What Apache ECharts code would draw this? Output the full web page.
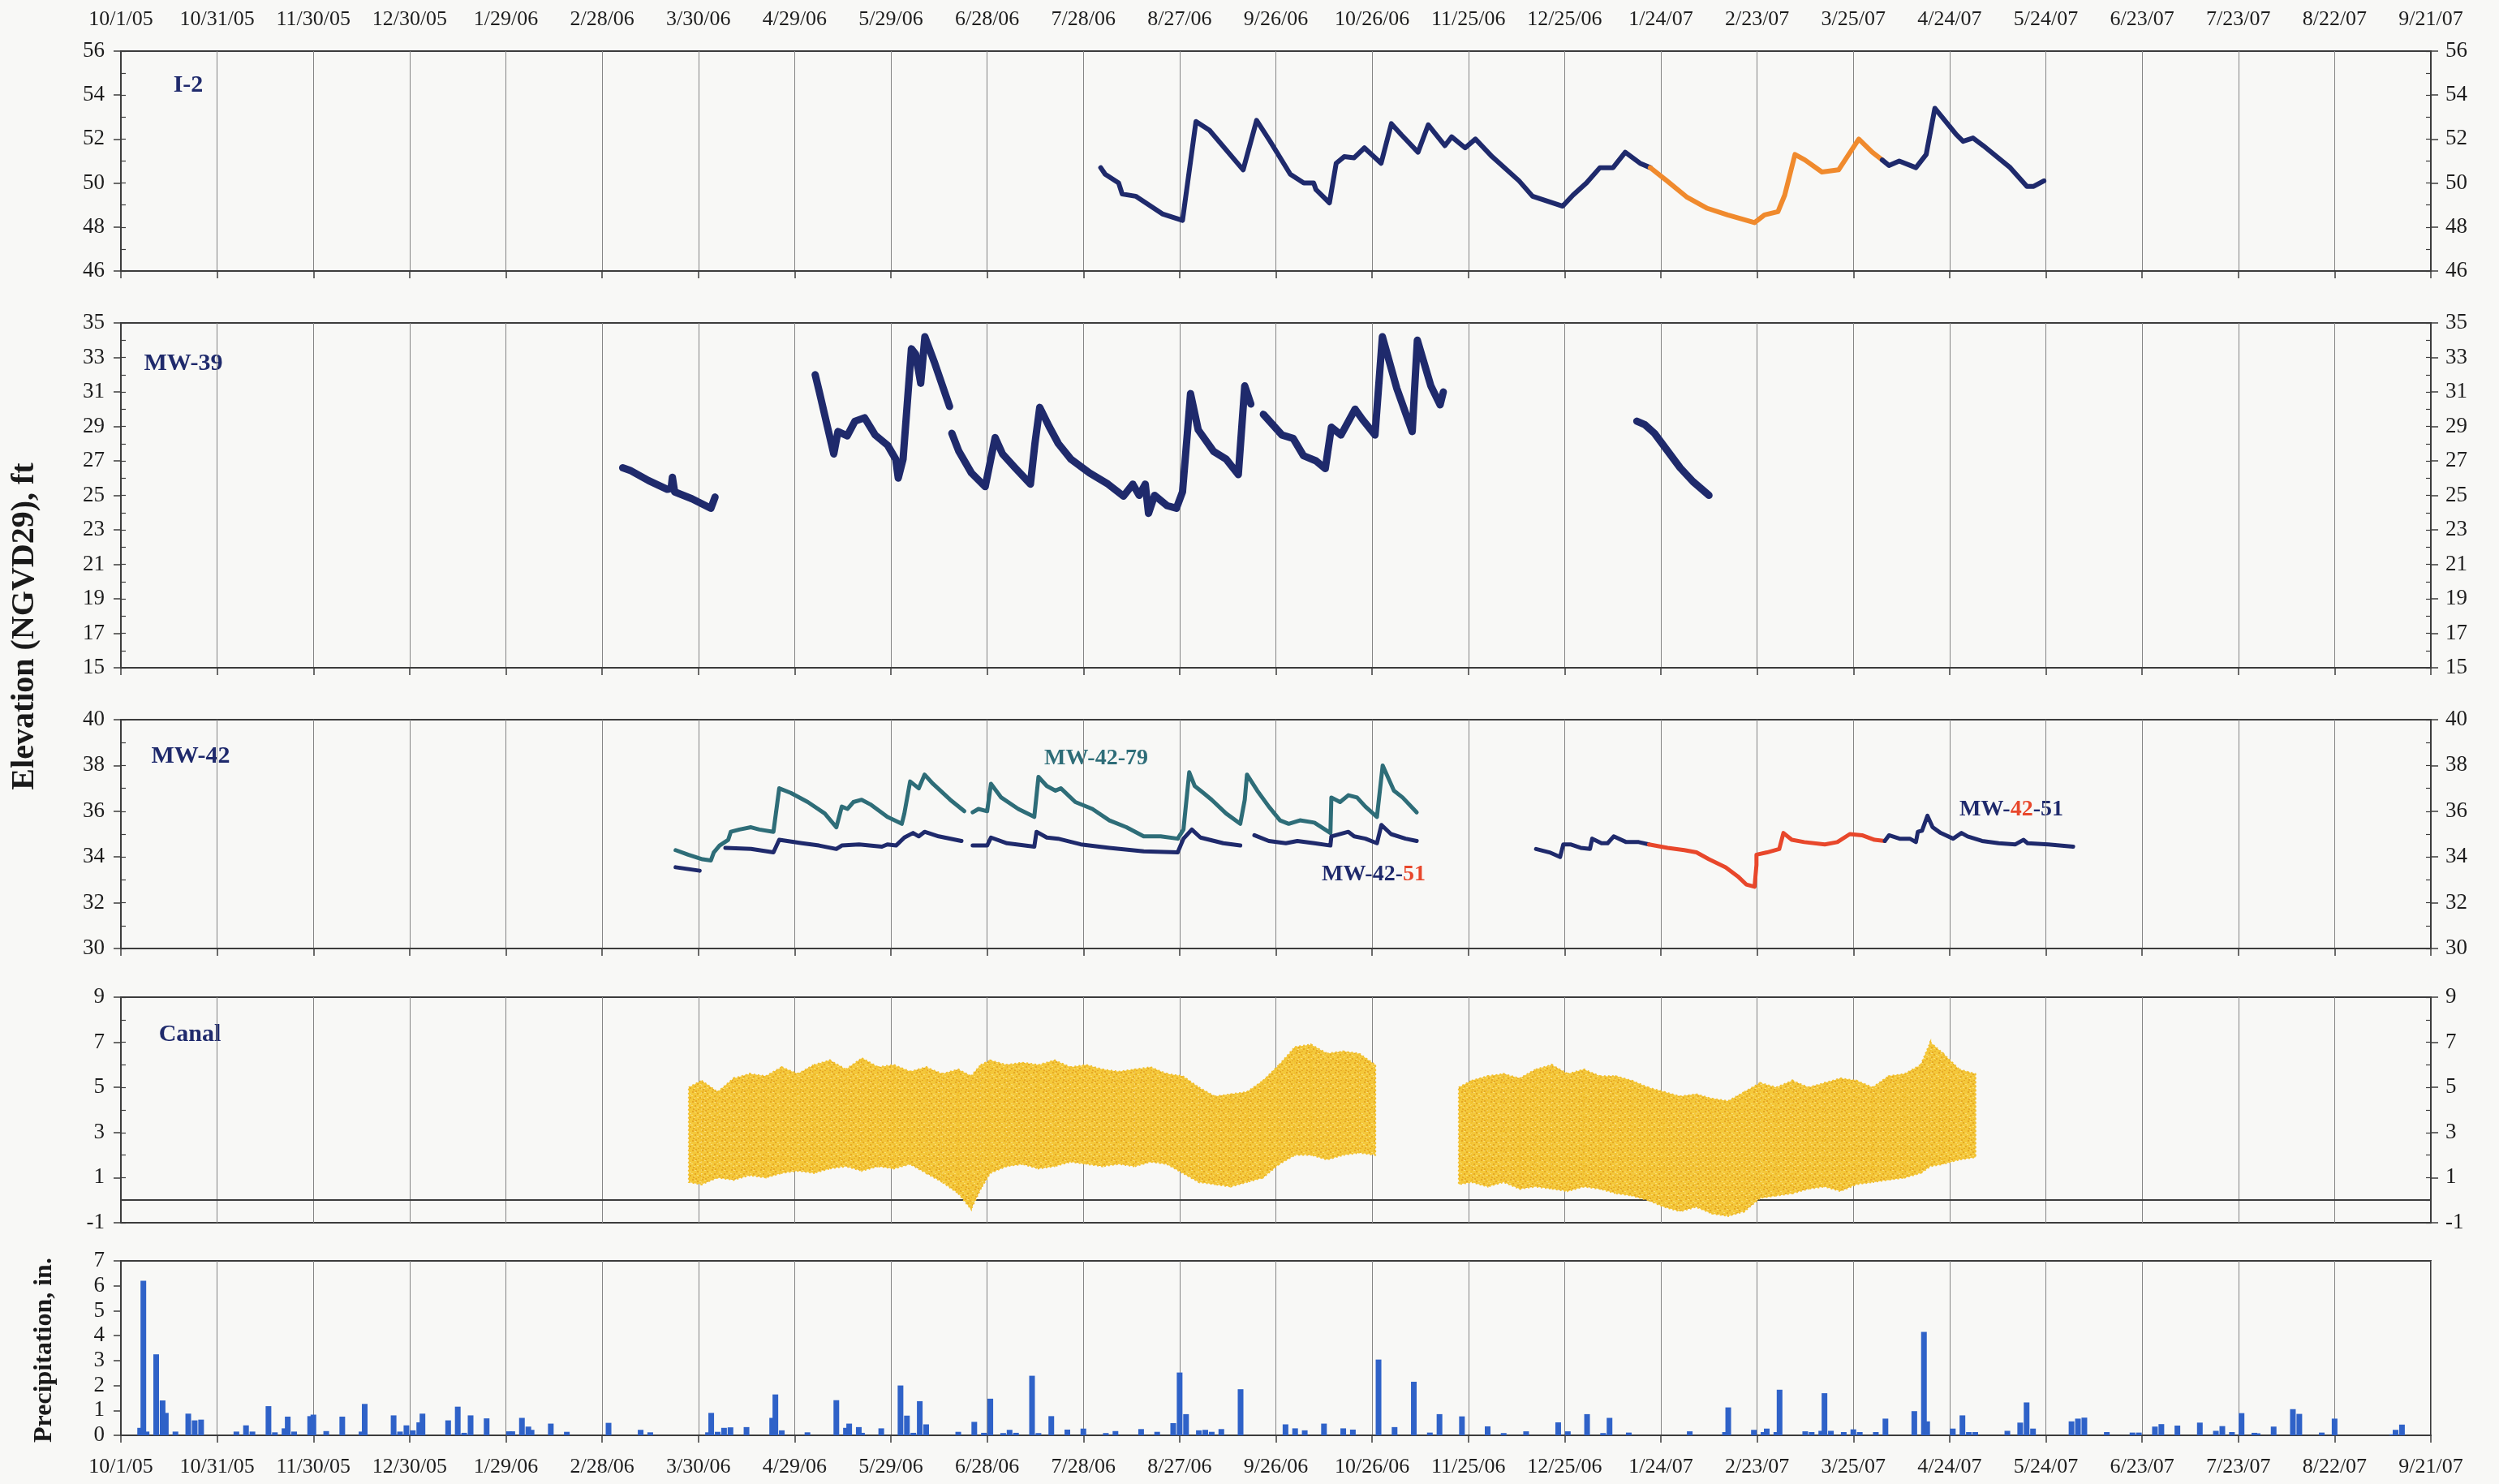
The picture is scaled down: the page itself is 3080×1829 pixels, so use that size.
<!DOCTYPE html>
<html>
<head>
<meta charset="utf-8">
<script src="https://cdn.jsdelivr.net/npm/echarts@6/dist/echarts.min.js"></script>
<style>
html,body{margin:0;padding:0;background:#f8f8f6;}
#chart{width:3080px;height:1829px;}
</style>
</head>
<body>
<div id="chart"></div>
<script>
// x values are elapsed days since 10/1/05; the axis prints them as M/D/YY dates.
const DAY0 = Date.UTC(2005, 9, 1);
const X_MIN = 0, X_MAX = 720, X_STEP = 30;

// ---- I-2 water level, ft NGVD29 ----
const i2Navy1 = [[305.4,50.7],[306.8,50.4],[311,50.0],[312.1,49.5],[316.3,49.4],[320.5,49.0],[324.6,48.6],[330.9,48.3],[335.1,52.8],[339.3,52.4],[349.8,50.6],[354.0,52.85],[358.2,51.9],[364.5,50.4],[368.7,50.0],[371.8,50.0],[372.5,49.7],[376.7,49.1],[378.8,50.9],[381.3,51.2],[384.4,51.15],[387.6,51.6],[392.8,50.9],[396.0,52.7],[399.1,52.2],[404.3,51.4],[407.5,52.65],[412.7,51.7],[414.8,52.1],[419.0,51.6],[422.2,52.0],[427.4,51.2],[435.8,50.1],[440.0,49.4],[449.4,48.95],[452.6,49.45],[456.8,50.0],[461.0,50.7],[465.1,50.7],[468.9,51.4],[473.5,50.9],[476.7,50.7]];
const i2Orange = [[476.7,50.7],[481.9,50.1],[488.2,49.35],[494.5,48.85],[500.8,48.55],[509.2,48.2],[512.3,48.55],[516.5,48.7],[518.6,49.45],[521.8,51.3],[524.9,51.05],[530.2,50.5],[535.4,50.6],[541.7,52.0],[545.9,51.4],[549.0,51.05]];
const i2Navy2 = [[549.0,51.05],[551.1,50.8],[554.3,51.0],[559.5,50.7],[562.7,51.3],[565.4,53.4],[572.1,52.2],[574.2,51.9],[577.3,52.05],[580.5,51.7],[588.9,50.7],[594.1,49.85],[596.2,49.85],[599.4,50.1]];

// ---- MW-39 ----
const mw39Seg1 = [[156.4,26.6],[158.7,26.45],[164.5,25.85],[170.3,25.35],[171.5,25.4],[171.9,26.05],[172.6,25.2],[178.0,24.8],[183.9,24.25],[185.2,24.9]];
const mw39Seg2 = [[216.4,32.0],[217.7,31.0],[220.2,29.0],[222.2,27.4],[223.5,28.7],[226.4,28.45],[228.8,29.3],[231.8,29.5],[235.1,28.5],[239.0,27.9],[241.5,27.1],[242.3,26.0],[243.8,27.1],[246.4,33.5],[247.7,33.2],[249.3,31.5],[250.6,34.2],[253.5,32.75],[258.3,30.15]];
const mw39Seg3 = [[259.0,28.6],[261.2,27.55],[265.1,26.3],[269.4,25.5],[272.5,28.35],[274.8,27.4],[278.7,26.6],[283.5,25.65],[284.9,28.0],[286.4,30.1],[289.3,29.0],[292.2,28.0],[296.1,27.1],[301.9,26.3],[307.7,25.65],[312.5,24.95],[315.4,25.65],[317.4,25.0],[319.3,25.65],[320.3,23.95],[322.2,25.0],[326.1,24.4],[329.0,24.25],[330.9,25.2],[332.5,28.8],[333.4,30.9],[335.8,28.8],[340.6,27.55],[344.5,27.1],[348.3,26.2],[350.3,31.35],[352.2,30.3]];
const mw39Seg4 = [[356.1,29.7],[361.9,28.5],[365.4,28.3],[368.6,27.3],[372.5,27.0],[375.4,26.55],[377.3,28.95],[380.3,28.5],[384.7,30.0],[387.0,29.4],[390.9,28.5],[393.2,34.2],[397.7,31.2],[402.5,28.7],[404.1,34.0],[408.3,31.35],[411.2,30.25],[412.2,31.0]];
const mw39Seg5 = [[472.5,29.3],[475,29.1],[478,28.6],[482,27.6],[486,26.6],[490,25.8],[495,25.0]];

// ---- MW-42 cluster ----
const mw4279SegA = [[172.9,34.3],[176.8,34.1],[181.3,33.9],[183.9,33.85],[184.8,34.2],[186.6,34.5],[189.3,34.75],[190.1,35.1],[192.8,35.2],[196.4,35.3],[199.0,35.2],[203.4,35.1],[205.2,37.0],[208.8,36.8],[214.1,36.4],[219.4,35.9],[223.0,35.3],[224.7,36.2],[226.5,36.1],[228.3,36.4],[230.9,36.5],[233.6,36.3],[238.9,35.75],[243.4,35.45],[244.2,35.9],[246.0,37.3],[248.7,37.0],[250.5,37.6],[253.1,37.2],[258.5,36.5],[262.9,36.0]];
const mw4279SegB = [[265.5,35.95],[267.3,36.1],[270.0,36.0],[271.2,37.2],[274.4,36.6],[279.7,36.1],[284.7,35.75],[286.0,37.5],[288.6,37.1],[291.3,36.9],[293.0,37.0],[297.5,36.4],[302.8,36.1],[308.1,35.6],[313.4,35.3],[318.8,34.9],[324.1,34.9],[329.4,34.8],[331.2,35.2],[333.0,37.7],[334.7,37.1],[337.4,36.8],[340.0,36.5],[344.5,35.9],[348.9,35.45],[350.3,36.5],[351.0,37.6],[354.2,36.9],[357.8,36.2],[361.3,35.6],[364.0,35.45],[367.5,35.6],[372.0,35.5],[377.0,35.05],[377.3,36.6],[380.0,36.4],[382.6,36.7],[385.3,36.6],[387.9,36.2],[391.5,35.75],[393.3,38.0],[396.8,36.9],[399.5,36.6],[403.9,35.95]];
const mw4251SegA = [[172.9,33.55],[180.4,33.4]];
const mw4251SegB = [[188.4,34.4],[196.4,34.35],[203.4,34.2],[205.2,34.75],[212.3,34.6],[217.6,34.5],[223.0,34.35],[224.7,34.5],[230.1,34.55],[237.2,34.45],[238.9,34.55],[241.6,34.5],[244.2,34.85],[246.9,35.05],[248.7,34.9],[250.5,35.1],[254.9,34.9],[262.0,34.7]];
const mw4251SegC = [[265.5,34.5],[270.0,34.5],[271.2,34.85],[276.2,34.6],[284.7,34.45],[285.4,35.1],[288.6,34.85],[292.1,34.8],[299.2,34.55],[308.1,34.4],[318.8,34.25],[329.4,34.2],[331.2,34.8],[333.8,35.2],[336.5,34.85],[343.6,34.6],[348.9,34.5]];
const mw4251SegD = [[353.3,34.95],[357.8,34.7],[363.1,34.6],[366.7,34.7],[372.0,34.6],[377.0,34.5],[377.3,34.9],[382.6,35.1],[384.4,34.9],[387.9,34.8],[391.5,34.6],[392.9,35.4],[395.9,35.0],[400.4,34.8],[403.9,34.7]];
const mw4251SegE = [[441.1,34.35],[445.3,34.2],[448.6,34.0],[449.6,34.55],[451.8,34.55],[455.0,34.4],[457.9,34.35],[458.6,34.8],[461.5,34.6],[463.4,34.6],[465.3,34.9],[469.2,34.65],[473.1,34.65],[476.3,34.55]];
const mw4251Red = [[476.3,34.55],[482.1,34.4],[487.3,34.3],[491.1,34.2],[495.0,33.9],[500.2,33.55],[504.0,33.15],[506.6,32.8],[509.2,32.7],[509.8,33.65],[509.8,34.1],[513.1,34.2],[516.9,34.35],[518.2,35.05],[520.8,34.75],[524.7,34.65],[531.1,34.55],[535.0,34.65],[538.9,35.0],[542.7,34.95],[546.6,34.75],[549.8,34.7]];
const mw4251SegF = [[549.8,34.7],[551.1,34.95],[554.4,34.8],[557.6,34.8],[559.5,34.65],[560.1,35.1],[561.4,35.15],[563.1,35.8],[564.7,35.3],[567.2,35.05],[571.1,34.8],[573.7,35.05],[575.6,34.9],[580.1,34.7],[585.3,34.6],[590.5,34.55],[593.0,34.75],[594.3,34.6],[600.8,34.55],[608.5,34.45]];

// ---- Canal stage: [day, low, high] ----
const canalRun1 = [[177,0.8,5.0],[181,0.7,5.3],[186,1.0,4.8],[191,0.9,5.4],[196,1.1,5.6],[201,1.0,5.5],[206,1.2,5.9],[211,1.3,5.6],[216,1.2,6.0],[221,1.4,6.2],[226,1.5,5.8],[231,1.3,6.3],[236,1.5,5.9],[241,1.4,6.0],[246,1.6,5.7],[251,1.2,5.9],[256,0.8,5.6],[261,0.3,5.8],[265,-0.4,5.5],[268,0.5,6.0],[271,1.2,6.2],[276,1.5,6.0],[281,1.6,6.1],[286,1.4,6.0],[291,1.5,6.2],[296,1.7,5.9],[301,1.6,6.0],[306,1.5,5.8],[311,1.6,5.7],[316,1.5,5.8],[321,1.7,5.9],[326,1.6,5.6],[331,1.2,5.5],[336,0.8,5.0],[341,0.7,4.6],[346,0.6,4.7],[351,0.8,4.8],[356,1.0,5.3],[361,1.6,6.0],[366,2.0,6.8],[371,2.0,6.9],[376,1.8,6.5],[381,2.0,6.6],[386,2.1,6.5],[391,2.0,6.0]];
const canalRun2 = [[417,0.7,5.0],[421,0.8,5.3],[426,0.6,5.5],[431,0.8,5.6],[436,0.5,5.4],[441,0.6,5.8],[446,0.5,6.0],[451,0.4,5.6],[456,0.6,5.8],[461,0.5,5.5],[466,0.3,5.5],[471,0.2,5.3],[476,0.0,5.0],[481,-0.3,4.8],[486,-0.5,4.6],[491,-0.3,4.7],[496,-0.6,4.5],[501,-0.7,4.4],[506,-0.5,4.8],[511,0.1,5.2],[516,0.2,5.0],[521,0.3,5.3],[526,0.5,5.0],[531,0.6,5.2],[536,0.4,5.4],[541,0.7,5.3],[546,0.8,5.0],[551,0.9,5.5],[556,1.0,5.6],[561,1.2,6.0],[564,1.5,7.0],[568,1.6,6.5],[573,1.8,5.8],[578,1.9,5.6]];

// ---- Daily precipitation, in. ----
const rainDay = [6,7,8,11,13,14,17,21,23,25,36,39,41,46,48,51,52,54,59,60,64,69,75,76,85,87,89,91,93,94,102,105,107,109,114,121,122,125,127,128,134,139,152,162,165,183,184,186,188,190,195,203,204,206,214,
223,226,227,230,231,237,243,245,247,249,251,261,266,269,271,275,277,279,284,286,290,295,300,307,310,318,323,328,330,332,336,338,340,343,349,363,366,369,375,381,384,392,397,403,408,411,418,426,431,438,448,451,457,462,464,470,489,
500,501,509,512,513,516,517,525,527,530,531,533,537,540,542,547,550,559,562,563,571,574,576,578,588,592,594,596,608,610,612,619,627,629,634,636,641,648,653,655,658,661,665,666,671,677,679,686,690,708,709,711];
const rainInches = [0.3,6.2,0.15,3.25,1.4,0.9,0.15,0.87,0.6,0.63,0.15,0.4,0.15,1.17,0.12,0.28,0.75,0.15,0.77,0.83,0.17,0.75,0.15,1.26,0.8,0.15,0.4,0.2,0.52,0.87,0.6,1.15,0.1,0.8,0.68,0.16,0.16,0.7,0.35,0.22,0.47,0.14,0.5,0.22,0.12,0.12,0.9,0.14,0.3,0.32,0.33,0.7,1.64,0.2,0.12,
1.41,0.3,0.47,0.33,0.1,0.28,2.0,0.79,0.1,1.37,0.44,0.14,0.54,0.1,1.47,0.09,0.22,0.1,2.39,0.09,0.77,0.23,0.27,0.09,0.17,0.25,0.14,0.49,2.52,0.85,0.2,0.22,0.14,0.25,1.85,0.44,0.28,0.2,0.47,0.28,0.23,3.04,0.33,2.15,0.11,0.85,0.76,0.36,0.09,0.16,0.52,0.16,0.85,0.09,0.7,0.11,0.16,
0.13,1.12,0.22,0.13,0.27,0.13,1.83,0.16,0.13,0.18,1.69,0.18,0.13,0.24,0.13,0.13,0.67,0.97,4.15,0.56,0.27,0.8,0.13,0.13,0.18,0.51,1.32,0.27,0.56,0.67,0.71,0.13,0.11,0.11,0.35,0.45,0.39,0.51,0.18,0.37,0.13,0.89,0.1,0.08,0.35,1.05,0.86,0.11,0.67,0.04,0.22,0.43];

// ---- tick labels ----
const i2Ticks = [46,48,50,52,54,56];
const mw39Ticks = [15,17,19,21,23,25,27,29,31,33,35];
const mw42Ticks = [30,32,34,36,38,40];
const canalTicks = [-1,1,3,5,7,9];
const rainTicks = [0,1,2,3,4,5,6,7];

const NAVY = '#1f2a6c', ORANGE = '#f08a2d', TEAL = '#2e6d78', RED = '#e8472b', GOLD = '#f2c02e', BLUE = '#2f62c8';
const FONT = 'Liberation Serif';
const AXIS = '#3c3c3c';

function dayLabel(d) {
  const t = new Date(DAY0 + Math.round(d) * 86400000);
  return (t.getUTCMonth() + 1) + '/' + t.getUTCDate() + '/' + String(t.getUTCFullYear()).slice(2);
}
function ints(a, b) { const r = []; for (let v = a; v <= b; v++) r.push(v); return r; }

// speckled gold fill for the dense hourly canal readings
function speckleFill() {
  const c = document.createElement('canvas');
  c.width = 12; c.height = 12;
  const g = c.getContext('2d');
  g.fillStyle = '#f4c83a'; g.fillRect(0, 0, 12, 12);
  g.fillStyle = '#e6a824';
  [[1,1],[7,3],[4,6],[10,8],[2,10],[8,11],[5,0]].forEach(p => g.fillRect(p[0], p[1], 2, 2));
  g.fillStyle = '#f8dc7c';
  [[4,2],[10,4],[0,6],[7,8],[3,9]].forEach(p => g.fillRect(p[0], p[1], 2, 1));
  return {image: c, repeat: 'repeat'};
}
const SPECKLE = speckleFill();

const gridBoxes = [
  {top: 63, height: 271},
  {top: 398, height: 425},
  {top: 887, height: 282},
  {top: 1229, height: 278},
  {top: 1554, height: 215}
];
const grid = gridBoxes.map(g => ({left: 149, right: 84, top: g.top, height: g.height,
  show: true, borderColor: AXIS, borderWidth: 2, backgroundColor: 'transparent'}));

const xAxis = gridBoxes.map((g, i) => ({
  gridIndex: i, type: 'value', min: X_MIN, max: X_MAX, interval: X_STEP,
  axisLine: {show: true, onZero: i === 3, lineStyle: {color: AXIS, width: 2}},
  axisTick: {show: i !== 3, length: 9, lineStyle: {color: AXIS, width: 1.5}},
  axisLabel: {show: i === 4, formatter: dayLabel, fontFamily: FONT, fontSize: 26, color: '#1e1e1e', margin: 26},
  splitLine: {show: true, lineStyle: {color: '#858585', width: 1}}
}));
xAxis.push({
  gridIndex: 0, type: 'value', position: 'top', min: X_MIN, max: X_MAX, interval: X_STEP,
  axisLine: {show: false, onZero: false}, axisTick: {show: false}, splitLine: {show: false},
  axisLabel: {show: true, formatter: dayLabel, fontFamily: FONT, fontSize: 26, color: '#1e1e1e', margin: 26}
});

const yAxis = [];
const mainY = [];
function addPanelAxes(gi, min, max, ticks, minor, rightLabels) {
  const base = {gridIndex: gi, type: 'value', min: min, max: max, splitLine: {show: false}};
  const label = {fontFamily: FONT, fontSize: 27, color: '#1e1e1e'};
  mainY[gi] = yAxis.length;
  yAxis.push(Object.assign({}, base, {position: 'left',
    axisLine: {show: true, onZero: false, lineStyle: {color: AXIS, width: 2}},
    axisTick: {show: true, length: 9, customValues: ticks, lineStyle: {color: AXIS, width: 1.5}},
    axisLabel: Object.assign({show: true, customValues: ticks, margin: 20}, label)}));
  if (minor) {
    yAxis.push(Object.assign({}, base, {position: 'left',
      axisLine: {show: false, onZero: false},
      axisTick: {show: true, inside: true, length: 6, customValues: ints(min, max), lineStyle: {color: AXIS, width: 1.2}},
      axisLabel: {show: false}}));
  }
  if (rightLabels) {
    yAxis.push(Object.assign({}, base, {position: 'right',
      axisLine: {show: true, onZero: false, lineStyle: {color: AXIS, width: 2}},
      axisTick: {show: true, length: 9, customValues: ticks, lineStyle: {color: AXIS, width: 1.5}},
      axisLabel: Object.assign({show: true, customValues: ticks, margin: 18}, label)}));
    yAxis.push(Object.assign({}, base, {position: 'right',
      axisLine: {show: false, onZero: false},
      axisTick: {show: true, inside: true, length: 6, customValues: ints(min, max), lineStyle: {color: AXIS, width: 1.2}},
      axisLabel: {show: false}}));
  }
}
addPanelAxes(0, 46, 56, i2Ticks, true, true);
addPanelAxes(1, 15, 35, mw39Ticks, true, true);
addPanelAxes(2, 30, 40, mw42Ticks, true, true);
addPanelAxes(3, -1, 9, canalTicks, true, true);
addPanelAxes(4, 0, 7, rainTicks, false, false);
xAxis[3].axisLine.onZeroAxisIndex = mainY[3];

function line(data, gi, color, width) {
  return {type: 'line', xAxisIndex: gi, yAxisIndex: mainY[gi], data: data, symbol: 'none',
    lineStyle: {color: color, width: width, cap: 'round', join: 'round'}, silent: true, z: 5};
}

// canal band: a filled quad between each reading and the next one
function bandData(run) {
  return run.map((p, k) => {
    const n = run[Math.min(k + 1, run.length - 1)];
    return [p[0], p[1], p[2], n[0], n[1], n[2]];
  });
}
function canalSeries(run) {
  return {
    type: 'custom', xAxisIndex: 3, yAxisIndex: mainY[3], data: bandData(run), silent: true, z: 4,
    encode: {x: [0, 3], y: [1, 2, 4, 5]},
    renderItem: function (params, api) {
      const a = api.coord([api.value(0), api.value(2)]);
      const b = api.coord([api.value(3), api.value(5)]);
      const c = api.coord([api.value(3), api.value(4)]);
      const d = api.coord([api.value(0), api.value(1)]);
      return {type: 'polygon', shape: {points: [a, b, c, d]},
        style: {fill: SPECKLE, stroke: GOLD, lineWidth: 2, lineDash: [2, 3]}};
    }
  };
}

const series = [
  line(i2Navy1, 0, NAVY, 6), line(i2Orange, 0, ORANGE, 6), line(i2Navy2, 0, NAVY, 6),
  line(mw39Seg1, 1, NAVY, 9), line(mw39Seg2, 1, NAVY, 9), line(mw39Seg3, 1, NAVY, 9),
  line(mw39Seg4, 1, NAVY, 9), line(mw39Seg5, 1, NAVY, 9),
  line(mw4279SegA, 2, TEAL, 5), line(mw4279SegB, 2, TEAL, 5),
  line(mw4251SegA, 2, NAVY, 5), line(mw4251SegB, 2, NAVY, 5), line(mw4251SegC, 2, NAVY, 5),
  line(mw4251SegD, 2, NAVY, 5), line(mw4251SegE, 2, NAVY, 5), line(mw4251Red, 2, RED, 5),
  line(mw4251SegF, 2, NAVY, 5),
  canalSeries(canalRun1), canalSeries(canalRun2),
  {type: 'bar', xAxisIndex: 4, yAxisIndex: mainY[4], barWidth: 7, silent: true,
    data: rainDay.map((d, k) => [d, rainInches[k]]), itemStyle: {color: BLUE}}
];

function tag(x, y, text, size, color) {
  return {type: 'text', x: x, y: y, silent: true,
    style: {text: text, fontFamily: FONT, fontWeight: 'bold', fontSize: size, fill: color, align: 'center', verticalAlign: 'middle'}};
}
const graphic = [
  tag(232, 105, 'I-2', 30, NAVY),
  tag(226, 448, 'MW-39', 30, NAVY),
  tag(235, 932, 'MW-42', 30, NAVY),
  tag(234, 1275, 'Canal', 30, NAVY),
  tag(1351, 935, 'MW-42-79', 28, TEAL),
  {type: 'text', x: 1693, y: 1078, silent: true, style: {
    text: '{n|MW-42-}{r|51}', align: 'center', verticalAlign: 'middle',
    rich: {n: {fontFamily: FONT, fontWeight: 'bold', fontSize: 28, fill: NAVY},
           r: {fontFamily: FONT, fontWeight: 'bold', fontSize: 28, fill: RED}}}},
  {type: 'text', x: 2479, y: 998, silent: true, style: {
    text: '{n|MW-}{r|42}{n|-51}', align: 'center', verticalAlign: 'middle',
    rich: {n: {fontFamily: FONT, fontWeight: 'bold', fontSize: 28, fill: NAVY},
           r: {fontFamily: FONT, fontWeight: 'bold', fontSize: 28, fill: RED}}}},
  {type: 'text', x: 31, y: 772, rotation: Math.PI / 2, silent: true,
    style: {text: 'Elevation (NGVD29), ft', fontFamily: FONT, fontWeight: 'bold', fontSize: 40, fill: '#1a1a1a', align: 'center', verticalAlign: 'middle'}},
  {type: 'text', x: 55, y: 1664, rotation: Math.PI / 2, silent: true,
    style: {text: 'Precipitation, in.', fontFamily: FONT, fontWeight: 'bold', fontSize: 32, fill: '#1a1a1a', align: 'center', verticalAlign: 'middle'}}
];

const chart = echarts.init(document.getElementById('chart'), null, {renderer: 'canvas'});
chart.setOption({
  backgroundColor: '#f8f8f6',
  animation: false,
  grid: grid,
  xAxis: xAxis,
  yAxis: yAxis,
  series: series,
  graphic: graphic
});
</script>
</body>
</html>
